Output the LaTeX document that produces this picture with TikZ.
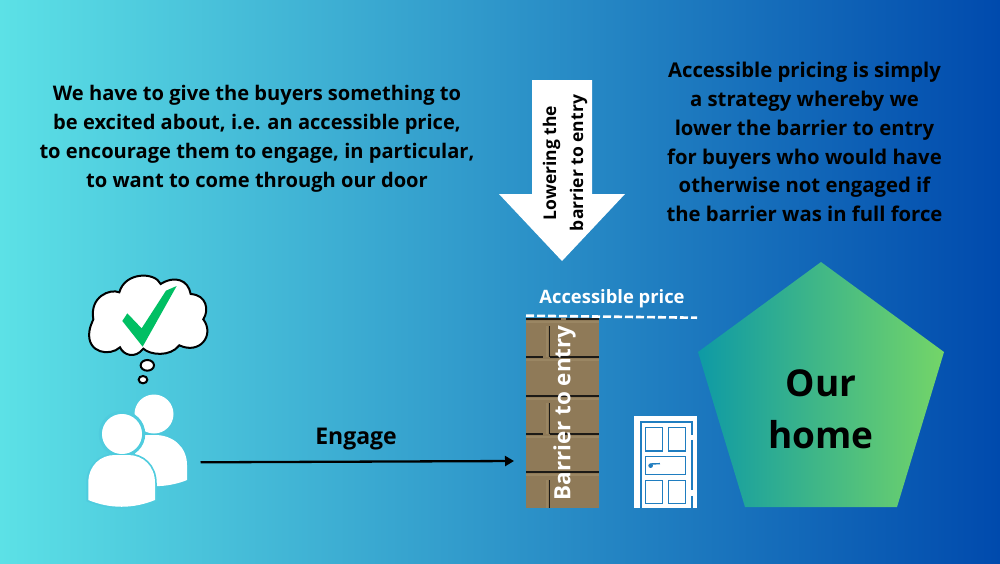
\documentclass[tikz,border=0pt]{standalone}
\usepackage{fontspec}
\setmainfont{Open Sans}
\usetikzlibrary{arrows.meta, positioning, calc}
\definecolor{cleft}{HTML}{5CE1E6}
\definecolor{cright}{HTML}{004AAD}
\definecolor{cteal}{HTML}{0E9AA5}
\definecolor{cgreen}{HTML}{74D568}
\definecolor{ctick}{HTML}{00BF63}
\definecolor{chalo}{HTML}{4FCCDE}
\definecolor{cbrick}{HTML}{8F7A58}
\definecolor{cbevel}{HTML}{9A8663}
\definecolor{cmortar}{HTML}{1C1A16}
\definecolor{cdoor}{HTML}{1F7DC0}
\tikzset{
  every picture/.style={x=1pt, y=-1pt},
  note/.style={font=\fontsize{20.1}{29.1}\selectfont\bfseries, align=center, inner sep=0pt},
  label/.style={font=\fontsize{#1}{#1}\selectfont\bfseries, align=center, inner sep=0pt},
  wall/.style={fill=cbrick, minimum width=73pt, minimum height=190pt, inner sep=0pt},
  mortar/.style={draw=cmortar, line width=1.3pt},
  bevel/.style={draw=cbevel, line width=2pt},
  panel/.style={draw=cdoor, fill=white, line width=1.4pt},
  arrow/.style={-{Triangle[length=9pt, width=10pt]}, draw=black, line width=2.3pt},
}
\begin{document}
\begin{tikzpicture}
  \useasboundingbox (0,0) rectangle (1000,563);
  \shade[left color=cleft, right color=cright] (0,0) rectangle (1000,563);

  % texts
  \node[note] (excited) at (257,138.5) {We have to give the buyers something to\\be excited about, i.e. an accessible price,\\to encourage them to engage, in particular,\\to want to come through our door};
  \node[note, font=\fontsize{20.3}{28.8}\selectfont\bfseries] (pricing) at (804.5,142) {Accessible pricing is simply\\a strategy whereby we\\lower the barrier to entry\\for buyers who would have\\otherwise not engaged if\\the barrier was in full force};

  % big arrow
  \fill[white] (532,80) -- (592,80) -- (592,194) -- (625,194) -- (562,261) -- (499,194) -- (532,194) -- cycle;
  \node[rotate=90, note, font=\fontsize{17.5}{27}\selectfont\bfseries] (lowering) at (565,163) {Lowering the\\barrier to entry};

  % thought cloud and tick
  \begin{scope}[shift={(60,260)}, x=0.3333pt, y=-0.3333pt]
    \draw[fill=white, line width=2pt]
      (100,178) .. controls (88,110) and (150,85) .. (178,97)
      .. controls (195,35) and (285,35) .. (302,72)
      .. controls (345,45) and (385,60) .. (392,102)
      .. controls (440,105) and (448,150) .. (430,178)
      .. controls (465,225) and (420,285) .. (358,256)
      .. controls (330,292) and (270,285) .. (250,266)
      .. controls (225,298) and (190,285) .. (180,262)
      .. controls (150,290) and (80,280) .. (88,215)
      .. controls (90,200) and (95,190) .. (100,178) -- cycle;
    \fill[ctick] (187,183) -- (202,160) -- (245,205) -- (318,92) -- (350,78) -- (248,260) -- cycle;
    \draw[fill=white, line width=2pt] (262,316) ellipse (20 and 16);
    \draw[fill=white, line width=2pt] (249,359) ellipse (13 and 11);
  \end{scope}

  % buyers
  \fill[white] (154,414) circle (19.5);
  \fill[white] (135,486) -- (160,486) .. controls (170,485.5) and (180,483) .. (187,480) -- (187,465)
    .. controls (187,447) and (173,435) .. (155,435) -- (135,435) -- cycle;
  \fill[white, draw=chalo, line width=3.5pt] (122,434) circle (21.5);
  \fill[white, draw=chalo, line width=3.5pt] (88,500) -- (88,483) .. controls (88,466) and (100,455) .. (115,455)
    -- (128,455) .. controls (143,455) and (155,466) .. (155,483) -- (155,500)
    .. controls (133,509) and (110,509) .. (88,500) -- cycle;
  \fill[white] (122,434) circle (20);
  \fill[white] (88.3,500) -- (88.3,483) .. controls (88.3,466) and (100,455) .. (115,455)
    -- (128,455) .. controls (143,455) and (155,466) .. (155,483) -- (155,500)
    .. controls (133,509) and (110,509) .. (88.3,500) -- cycle;

  % wall
  \node[wall] (wall) at (562.5,413) {};
  \foreach \y in {321.5,359.5,398.5,436.5,474.5} \draw[bevel] (526,\y) -- (599,\y);
  \foreach \a/\b in {326/357,403/434,480/508} \draw[bevel] (546.5,\a) -- (546.5,\b);
  \foreach \y in {396,472} \draw[mortar] (526,\y) -- (599,\y);
  \foreach \y in {357,434} {
    \draw[mortar] (526,\y) -- (543,\y);
    \draw[mortar] (549.5,\y) -- (599,\y);
  }
  \draw[mortar] (526,319) -- (561,319);
  \draw[mortar] (566,319) -- (599,319);
  \foreach \a/\b in {326/357,403/434,480/508} \draw[mortar] (549.5,\a) -- (549.5,\b);
  \node[rotate=90, label=22.4, text=white] (barrier) at (564.5,413) {Barrier to entry};

  % door
  \begin{scope}[shift={(500,280)}, x=0.3333pt, y=-0.3333pt]
    \fill[white] (402,408) rectangle (590,683);
    \draw[draw=cdoor, line width=1.8pt] (422,683) -- (422,427) -- (575,427) -- (575,465);
    \draw[draw=cdoor, line width=1.8pt] (575,480) -- (575,630);
    \draw[draw=cdoor, line width=1.8pt] (575,648) -- (575,683);
    \draw[panel] (437,443) rectangle (488,513);
    \draw[panel] (505,443) rectangle (557,513);
    \draw[panel] (437,530) rectangle (557,584);
    \draw[panel] (437,602) rectangle (488,671);
    \draw[panel] (505,602) rectangle (557,671);
    \fill[cdoor] (452,557) circle (7);
    \draw[draw=cdoor, line width=1.4pt] (452,552) -- (480,551);
  \end{scope}

  % home
  \shade[left color=cteal, right color=cgreen] (821,262) -- (944,352) -- (897,507) -- (745,507) -- (698,352) -- cycle;
  \node[note, font=\fontsize{37}{51.5}\selectfont\bfseries] (home) at (821,409.5) {Our\\home};

  % connectors
  \coordinate (pricestart) at (526,315.7);
  \coordinate (priceend) at (697,317.7);
  \draw[draw=white, line width=2.6pt, dash pattern=on 8pt off 3pt] (pricestart) -- (priceend);
  \node[label=18.4, text=white] (price) at (612,299) {Accessible price};
  \coordinate (buyers) at (200.5,462.3);
  \coordinate (wallfront) at (514,461);
  \draw[arrow] (buyers) -- (wallfront);
  \node[label=23] (engage) at (356,439.5) {Engage};
\end{tikzpicture}
\end{document}
